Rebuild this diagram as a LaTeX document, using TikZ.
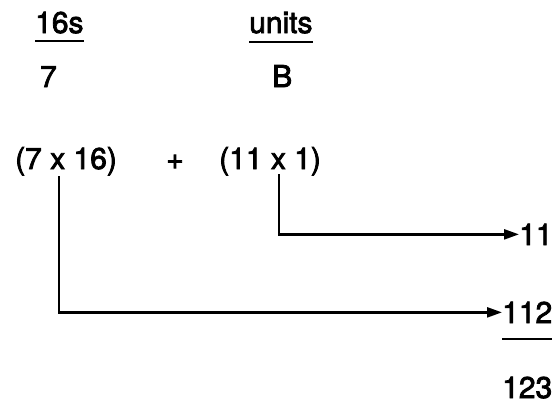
\documentclass[tikz,border=0pt]{standalone}
\usepackage{fontspec}
\setmainfont{TeX Gyre Heros}[RawFeature={embolden=2.6}]
\usetikzlibrary{arrows.meta}
\tikzset{
  txt/.style={anchor=base west, inner sep=0pt, font=\fontsize{30}{30}\selectfont},
  uline/.style={line width=2.8pt},
  conn/.style={line width=2.4pt, -{Triangle[length=15pt,width=10pt]}}
}
\begin{document}
\begin{tikzpicture}[x=1pt,y=-1pt]
\useasboundingbox (0,0) rectangle (557,407);
\node[txt] (s16) at (35,33) {16s};
\node[txt] (units) at (249,33) {units};
\node[txt] (seven) at (40,87) {7};
\node[txt] (bee) at (272,87) {B};
\node[txt] (lexp) at (15,169) {(7 x 16)};
\node[txt] (plus) at (166,169) {+};
\node[txt] (rexp) at (219,169) {(11 x 1)};
\node[txt] (n11) at (519,245) {11};
\node[txt] (n112) at (502,323) {112};
\node[txt] (n123) at (502,398) {123};
\draw[uline] ([yshift=-8pt]s16.base west) -- ([yshift=-8pt]s16.base east);
\draw[uline] ([yshift=-9pt]units.base west) -- ([yshift=-9pt]units.base east);
\draw[uline] ([yshift=-16pt]n112.base west) -- ([yshift=-16pt]n112.base east);
\coordinate (p1) at (59,176);
\coordinate (p2) at (279,174);
\draw[conn] (p1) |- (n112.west);
\draw[conn] (p2) |- (n11.west);
\end{tikzpicture}
\end{document}
